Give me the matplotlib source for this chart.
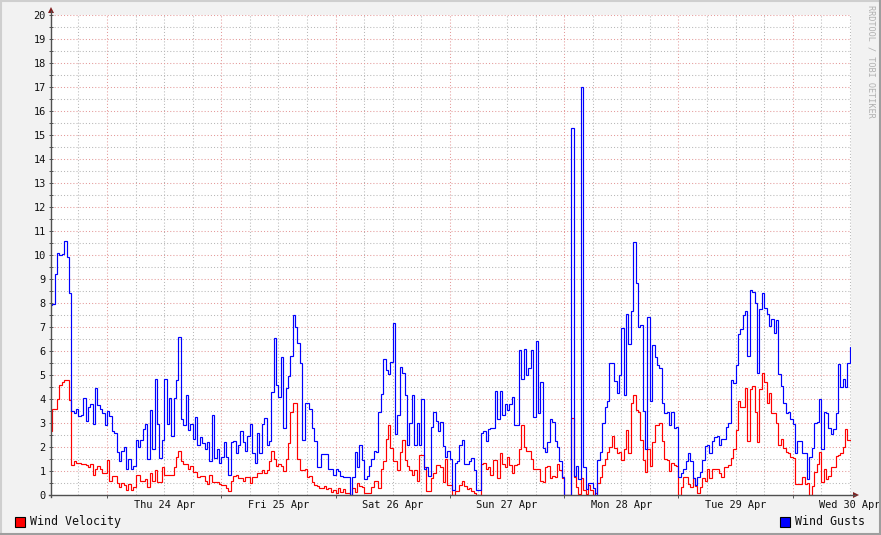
#!/usr/bin/env python3
import matplotlib
matplotlib.use("agg")
import matplotlib.pyplot as plt
from matplotlib.patches import Rectangle, Polygon
from matplotlib.lines import Line2D
from matplotlib import transforms
import numpy as np

# half-hourly samples; hours are relative to Thu 24 Apr 00:00
start_hour = -12.0
step_hours = 0.5
view_start, view_end = -11.76, 156.24

wind_gusts = [
    7.9, 7.95, 9.2, 10.1, 10.0, 10.05, 10.6, 9.9, 8.4, 3.5,
    3.4, 3.6, 3.3, 3.35, 4.05, 3.1, 3.65, 3.8, 2.95, 4.45,
    3.75, 3.6, 3.4, 2.9, 3.5, 3.3, 2.65, 2.6, 1.8, 1.4,
    1.85, 2.0, 1.1, 1.5, 1.1, 1.2, 2.3, 2.0, 2.3, 2.75,
    2.95, 1.5, 3.55, 1.9, 4.85, 2.95, 1.55, 2.3, 4.85, 2.95,
    4.05, 2.45, 4.05, 4.8, 6.6, 3.15, 2.9, 4.15, 2.7, 2.95,
    2.35, 3.25, 2.1, 2.4, 2.15, 1.9, 2.2, 1.4, 3.35, 1.55,
    1.9, 1.35, 1.6, 2.2, 1.6, 0.85, 2.2, 2.25, 1.75, 2.1,
    2.65, 2.2, 1.85, 2.45, 2.95, 1.75, 1.35, 2.6, 1.75, 2.95,
    3.2, 2.1, 2.25, 4.3, 6.55, 4.6, 4.1, 5.75, 2.8, 4.45,
    4.95, 5.8, 7.5, 7.0, 6.35, 5.5, 2.3, 3.85, 3.85, 3.6,
    2.8, 2.25, 1.15, 1.15, 1.7, 1.7, 1.7, 1.07, 1.07, 0.83,
    1.07, 0.98, 0.8, 0.76, 0.76, 0.76, 0.0, 0.76, 1.8, 1.15,
    2.1, 1.45, 0.65, 0.8, 1.2, 1.5, 1.85, 1.8, 3.45, 4.2,
    5.65, 5.2, 5.05, 5.55, 7.15, 2.55, 3.35, 5.35, 5.1, 4.15,
    2.1, 3.0, 4.15, 2.1, 3.0, 2.1, 4.0, 1.1, 1.15, 0.8,
    2.85, 3.45, 3.1, 2.65, 3.05, 2.05, 1.6, 1.85, 1.5, 0.2,
    1.35, 1.4, 2.1, 2.3, 1.3, 1.28, 1.4, 1.55, 1.05, 0.2,
    0.2, 2.6, 2.65, 2.25, 2.75, 2.78, 2.78, 4.35, 3.15, 4.35,
    3.35, 3.8, 3.55, 3.8, 4.1, 2.9, 2.9, 6.05, 4.85, 6.1,
    5.0, 5.3, 6.05, 3.25, 6.4, 3.4, 4.7, 1.95, 1.8, 2.2,
    3.15, 3.05, 2.25, 2.0, 1.4, 0.75, 0.0, 0.0, 0.0, 15.3,
    0.78, 1.2, 0.65, 17.0, 1.15, 0.24, 0.5, 0.5, 0.3, 0.0,
    1.45, 1.8, 3.0, 3.65, 3.9, 5.5, 5.5, 4.75, 4.25, 5.0,
    6.95, 4.15, 7.55, 6.3, 7.65, 10.55, 8.85, 7.0, 7.1, 3.5,
    1.9, 7.4, 3.9, 6.25, 5.75, 5.4, 5.3, 3.85, 3.4, 3.45,
    2.9, 3.45, 2.8, 2.85, 0.75, 0.9, 1.1, 1.4, 1.75, 1.4,
    0.7, 0.4, 0.75, 0.95, 1.45, 2.05, 2.1, 1.75, 2.25, 2.4,
    2.45, 2.1, 2.35, 2.35, 2.85, 3.0, 4.8, 4.65, 5.4, 6.7,
    6.9, 7.5, 7.65, 5.8, 8.55, 8.45, 8.0, 5.1, 7.75, 8.4,
    7.8, 7.55, 7.05, 7.35, 6.75, 7.3, 5.05, 4.55, 3.85, 3.4,
    3.45, 3.15, 2.95, 1.75, 2.25, 2.25, 1.75, 1.75, 0.65, 1.6,
    1.95, 3.0, 3.05, 4.0, 1.9, 3.45, 3.4, 2.8, 2.55, 2.75,
    3.4, 5.45, 4.5, 4.85, 4.5, 5.5, 6.15,
]

wind_velocity = [
    2.67, 3.57, 3.57, 4.0, 4.6, 4.72, 4.78, 4.78, 3.95, 1.25,
    1.4, 1.35, 1.35, 1.3, 1.3, 1.25, 1.15, 1.3, 0.85, 1.1,
    1.2, 1.1, 0.9, 0.9, 1.45, 0.6, 0.8, 0.8, 0.5, 0.35,
    0.5, 0.4, 0.2, 0.45, 0.2, 0.35, 0.85, 0.85, 0.6, 0.6,
    0.65, 0.35, 0.9, 0.6, 1.05, 0.55, 0.55, 1.15, 0.85, 0.85,
    0.85, 0.85, 1.15, 1.6, 1.85, 1.4, 1.3, 1.3, 1.1, 1.2,
    0.95, 0.95, 0.75, 0.8, 0.8, 0.6, 0.45, 0.85, 0.55, 0.55,
    0.55, 0.45, 0.4, 0.4, 0.3, 0.15, 0.6, 0.8, 0.85, 0.7,
    0.7, 0.6, 0.75, 0.75, 0.5, 0.75, 0.75, 0.9, 0.9, 1.05,
    0.9, 1.05, 1.4, 1.85, 1.5, 1.2, 1.3, 1.2, 1.0, 1.5,
    2.15, 3.45, 3.85, 3.85, 1.5, 1.05, 1.05, 1.1, 0.75, 0.8,
    0.55, 0.4, 0.37, 0.28, 0.28, 0.37, 0.24, 0.28, 0.14, 0.2,
    0.1, 0.28, 0.14, 0.24, 0.07, 0.07, 0.0, 0.3, 0.14, 0.5,
    0.37, 0.35, 0.07, 0.07, 0.07, 0.32, 0.6, 0.6, 0.3, 1.07,
    1.43, 2.35, 2.9, 1.95, 1.4, 1.43, 1.05, 1.8, 2.3, 1.45,
    1.2, 1.05, 0.85, 1.05, 0.6, 1.65, 1.65, 1.15, 0.15, 0.15,
    0.7, 0.9, 1.25, 1.25, 1.15, 0.55, 1.5, 0.4, 0.4, 0.0,
    0.18, 0.15, 0.4, 0.6, 0.37, 0.24, 0.3, 0.18, 0.07, 0.0,
    0.0, 1.3, 1.35, 1.1, 1.15, 0.83, 1.45, 1.45, 0.7, 1.75,
    1.3, 1.15, 1.6, 1.25, 0.9, 1.25, 1.3, 1.9, 2.9, 2.0,
    1.85, 1.85, 1.5, 1.1, 1.07, 1.07, 0.6, 0.55, 1.15, 1.2,
    0.7, 0.8, 0.75, 1.3, 1.05, 0.7, 0.0, 0.0, 0.0, 3.2,
    0.75, 0.35, 0.05, 0.7, 0.2, 0.05, 0.4, 0.2, 0.0, 0.07,
    0.5, 0.75, 1.25, 1.5, 1.8, 2.0, 2.45, 1.95, 1.75, 1.8,
    1.45, 1.9, 2.7, 1.75, 3.85, 4.15, 3.55, 3.45, 2.3, 1.45,
    0.97, 1.9, 1.2, 2.2, 2.9, 2.9, 3.0, 2.25, 1.5, 1.45,
    1.0, 1.35, 1.25, 1.2, 0.0, 0.35, 0.75, 0.75, 0.45, 0.35,
    0.7, 0.37, 0.07, 0.35, 0.7, 0.6, 1.07, 0.7, 1.07, 1.1,
    1.1, 0.9, 0.75, 1.15, 1.15, 1.25, 1.55, 1.9, 2.7, 3.9,
    3.65, 3.65, 4.45, 2.25, 4.4, 4.55, 3.45, 2.2, 4.4, 5.1,
    4.7, 3.85, 4.25, 3.4, 3.4, 3.0, 2.1, 2.35, 1.95, 1.8,
    1.75, 1.6, 1.55, 0.45, 0.45, 0.45, 0.75, 0.45, 0.5, 0.0,
    0.37, 0.95, 1.3, 1.8, 0.55, 1.07, 0.65, 0.8, 1.15, 1.15,
    1.62, 1.67, 1.75, 2.0, 2.75, 2.3, 2.3,
]

day_labels = ["Thu 24 Apr", "Fri 25 Apr", "Sat 26 Apr", "Sun 27 Apr",
              "Mon 28 Apr", "Tue 29 Apr", "Wed 30 Apr"]
series_names = ["Wind Velocity", "Wind Gusts"]
series_colors = ["#ff0000", "#0000ff"]

W, H = 881, 535
MONO = "DejaVu Sans Mono"


def px(x, y):
    # pixel position (from top-left) -> figure fraction
    return x / W, 1 - y / H


fig = plt.figure(figsize=(W / 100, H / 100), dpi=100, facecolor="#f2f2f2")
ax = fig.add_axes([51 / W, 40 / H, 800 / W, 480 / H])
ax.set_facecolor("white")

edges = start_hour + step_hours * np.arange(len(wind_gusts) + 1)
ax.stairs(wind_velocity, edges, baseline=None, color=series_colors[0], lw=0.85, zorder=3)
ax.stairs(wind_gusts, edges, baseline=None, color=series_colors[1], lw=0.85, zorder=4)

ax.set_xlim(view_start, view_end)
ax.set_ylim(0, 20)

# grid: midnight / integer lines reddish, 6h / half lines grey
ax.set_yticks(np.arange(0, 21, 1))
ax.set_yticks(np.arange(0.5, 20, 1), minor=True)
ax.set_xticks(np.arange(0, 150, 24))
ax.set_xticks(np.arange(-6, 157, 6), minor=True)
ax.grid(which="major", color="#e49a9a", lw=0.75, ls=(0, (1, 2)), zorder=1)
ax.grid(which="minor", color="#b8b8b8", lw=0.75, ls=(0, (1, 2)), zorder=1)
ax.set_axisbelow(True)

ax.tick_params(axis="y", which="both", direction="inout", length=3.5, width=0.7,
               color="#555555", labelsize=7.4, pad=2, labelcolor="#111111")
ax.tick_params(axis="x", which="major", direction="out", length=2.5, width=0.7,
               color="#555555", labelbottom=False)
ax.tick_params(axis="x", which="minor", length=0)
for lab in ax.get_yticklabels():
    lab.set_fontfamily(MONO)

for side in ["top", "right", "left", "bottom"]:
    ax.spines[side].set_visible(False)

# axis lines with arrows
fig.add_artist(Line2D([51 / W, 51 / W], [px(0, 497)[1], px(0, 11)[1]], color="#505050", lw=1.0))
fig.add_artist(Line2D([49 / W, 855 / W], [px(0, 495)[1]] * 2, color="#505050", lw=1.0))
fig.add_artist(Polygon([px(48, 13), px(54, 13), px(51, 7)], closed=True,
                       facecolor="#802020", edgecolor="none"))
fig.add_artist(Polygon([px(853, 492), px(853, 498), px(859, 495)], closed=True,
                       facecolor="#802020", edgecolor="none"))

# day labels centred on noon
trans = transforms.blended_transform_factory(ax.transData, ax.transAxes)
for i, lab in enumerate(day_labels):
    ax.text(12 + 24 * i, -9.5 / 480, lab, transform=trans, ha="center", va="center",
            fontsize=7.4, family=MONO, color="#111111", clip_on=False)

# legend
legend_x = [15, 780]
for name, col, lx in zip(series_names, series_colors, legend_x):
    fig.add_artist(Rectangle(px(lx, 526.5), 10 / W, 10 / H, transform=fig.transFigure,
                             facecolor=col, edgecolor="black", lw=0.8))
    fig.text(*px(lx + 15, 521.5), name, ha="left", va="center",
             fontsize=8.4, family=MONO, color="#111111")

# watermark
fig.text(*px(871, 5), "RRDTOOL / TOBI OETIKER", rotation=-90, ha="center", va="top",
         fontsize=6.1, family=MONO, color="#b0b0b0")

# 3d frame
fig.add_artist(Line2D([0, 1], [1 - 1 / H] * 2, color="#cfcfcf", lw=1.5))
fig.add_artist(Line2D([1 / W] * 2, [0, 1], color="#cfcfcf", lw=1.5))
fig.add_artist(Line2D([0, 1], [1 / H] * 2, color="#9e9e9e", lw=1.5))
fig.add_artist(Line2D([1 - 1 / W] * 2, [0, 1], color="#9e9e9e", lw=1.5))

fig.savefig("out.png", dpi=100, facecolor=fig.get_facecolor())
